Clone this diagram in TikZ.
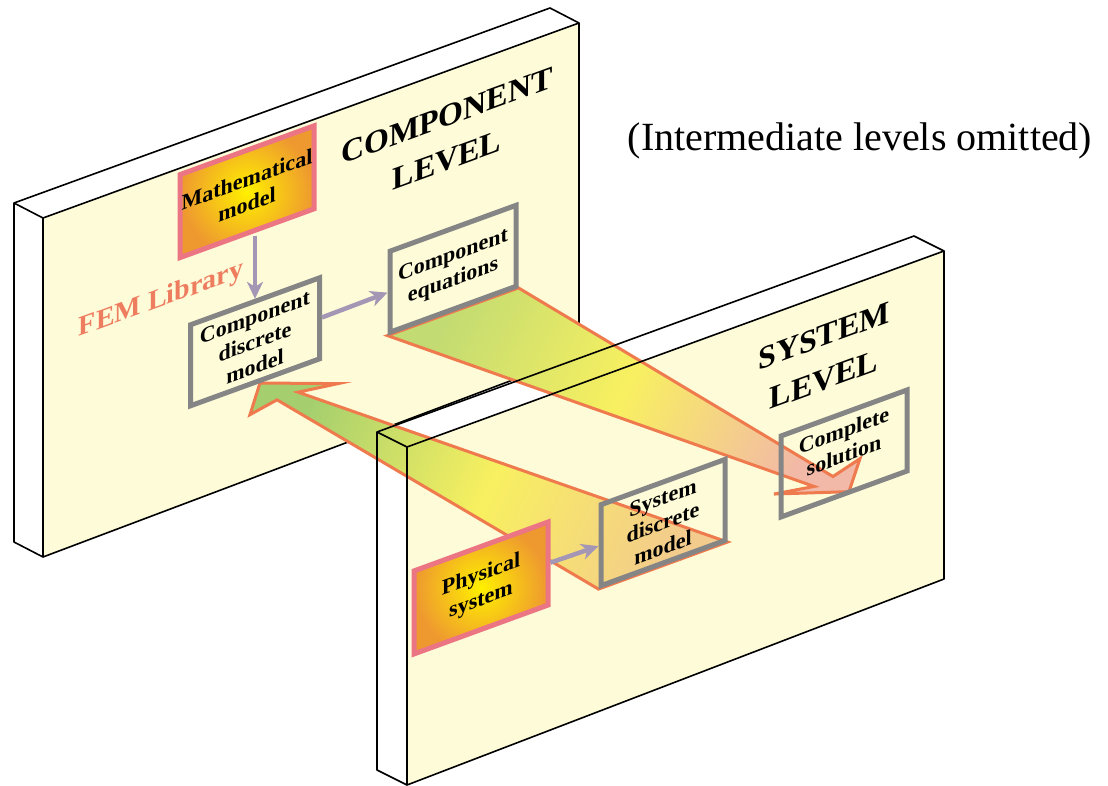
\documentclass[tikz,border=0pt]{standalone}
\usepackage{fontspec}
\setmainfont{Liberation Serif}
\usetikzlibrary{arrows.meta}

\definecolor{cream}{RGB}{254,252,216}
\definecolor{boxgray}{RGB}{133,133,133}
\definecolor{modelrim}{RGB}{236,117,132}
\definecolor{modelin}{RGB}{255,240,0}
\definecolor{modelout}{RGB}{238,152,48}
\definecolor{flowgray}{RGB}{163,151,181}
\definecolor{salmon}{RGB}{238,125,96}
\definecolor{bandrim}{RGB}{238,122,78}
\definecolor{bandyellow}{RGB}{248,240,96}
\definecolor{headgreen}{RGB}{165,207,110}
\definecolor{tailgreen}{RGB}{194,219,114}
\definecolor{headpink}{RGB}{242,184,168}
\definecolor{tailtan}{RGB}{243,203,140}

\newcommand{\stagefont}{\fontsize{22}{25}\selectfont\bfseries}
\newcommand{\levelfont}{\fontsize{32}{44}\selectfont\bfseries}

\pgfdeclarelayer{slabs}
\pgfdeclarelayer{bands}
\pgfsetlayers{slabs,bands,main}

\tikzset{
	edge/.style={line width=1.6pt,line join=round},
	stagebox/.style={draw=boxgray,line width=5pt,minimum width=126pt,minimum height=81pt,
		inner sep=1pt,align=center,font=\stagefont,transform shape},
	modelbox/.style={stagebox,draw=modelrim,inner color=modelin,outer color=modelout,
		minimum width=134pt,minimum height=83pt},
	flow/.style={draw=flowgray,line width=4.5pt,-{Stealth[length=17pt,width=16pt,inset=5pt]}},
	band/.style={draw=bandrim,line width=3pt,line join=miter},
	level/.style={align=center,font=\levelfont,transform shape}
}

\begin{document}
\begin{tikzpicture}[x=1pt,y=-1pt]
	\useasboundingbox (0,0) rectangle (1108,786);

	% the two slabs
	\begin{pgfonlayer}{slabs}
		\fill[cream] (43,218) -- (579,23) -- (579,355) -- (43,557) -- cycle;
		\fill[white] (14,203) -- (550,8) -- (579,23) -- (43,218) -- (43,557) -- (14,542) -- cycle;
		\draw[edge] (43,557) -- (43,218) -- (579,23) -- (579,355) -- (43,557) -- (14,542) -- (14,203) -- (43,218);
		\draw[edge] (14,203) -- (550,8) -- (579,23);
		\fill[cream] (407,447) -- (944,251) -- (944,579) -- (407,785) -- cycle;
		\fill[white] (377,432) -- (914,236) -- (944,251) -- (407,447) -- (407,785) -- (377,770) -- cycle;
	\end{pgfonlayer}
	\draw[edge] (407,785) -- (407,447) -- (944,251) -- (944,579) -- cycle;
	\draw[edge] (407,447) -- (377,432) -- (914,236) -- (944,251);
	\draw[edge] (377,432) -- (377,770) -- (407,785);

	% component level
	\begin{scope}[shift={(43,218)},yslant=0.364]
		\node[modelbox] (mm) at (204,48) {Mathematical\\model};
		\node[stagebox,minimum width=129pt] (cdm) at (212,201) {Component\\discrete\\model};
		\node[stagebox] (ce) at (410,200) {Component\\equations};
		\node[level] (complevel) at (404,67) {COMPONENT\\LEVEL};
		\node[font=\fontsize{28}{30}\selectfont\bfseries,text=salmon,transform shape] (fem) at (118,125) {FEM Library};
		\coordinate (b2tip) at (217,244);
		\coordinate (b2barbR) at (295,273);
		\coordinate (b2notchR) at (255,267);
		\coordinate (b2notchL) at (234,267);
		\coordinate (b2barbL) at (207,272);
	\end{scope}

	% system level
	\begin{scope}[shift={(407,447)},yslant=0.365]
		\node[modelbox] (ps) at (74,168) {Physical\\system};
		\node[stagebox,minimum width=124pt] (sdm) at (256,169) {System\\discrete\\model};
		\node[stagebox,text depth=22pt] (cs) at (437,166) {Complete\\solution};
		\node[level] (syslevel) at (417,63) {SYSTEM\\LEVEL};
		\coordinate (b1barbL) at (367,181);
		\coordinate (b1notchL) at (407,188);
		\coordinate (b1tip) at (442,206);
		\coordinate (b1barbR) at (453,177);
		\coordinate (b1notchR) at (426,185);
	\end{scope}

	\node[font=\fontsize{40}{44}\selectfont] (note) at (860,141) {(Intermediate levels omitted)};

	\draw[flow] (mm.south -| cdm.north) -- (cdm.north);
	\draw[flow] (cdm.east) -- (ce.west);
	\draw[flow] (ps.east) -- (sdm.west);

	% wide arrows between the levels
	\begin{pgfonlayer}{bands}
		\draw[band,left color=tailgreen,right color=headpink,middle color=bandyellow,shading angle=63]
			(ce.south east) -- (b1notchR) -- (b1barbR) -- (b1tip) -- (b1barbL) -- (b1notchL) -- (ce.south west) -- cycle;
		\draw[band,left color=headgreen,right color=tailtan,middle color=bandyellow,shading angle=66]
			(sdm.south east) -- (b2notchR) -- (b2barbR) -- (b2tip) -- (b2barbL) -- (b2notchL) -- (sdm.south west) -- cycle;
	\end{pgfonlayer}
\end{tikzpicture}
\end{document}
